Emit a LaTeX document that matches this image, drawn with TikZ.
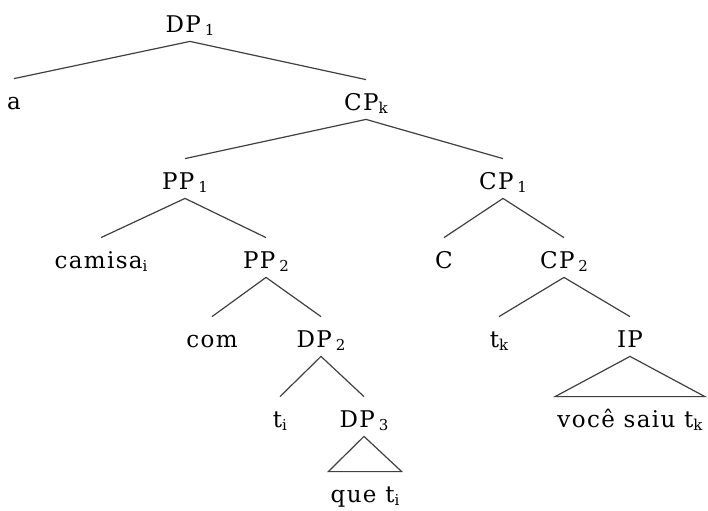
\documentclass[tikz,border=0pt]{standalone}
\usepackage{fontspec}
\setmainfont{DejaVu Serif}[LetterSpace=6]
\newcommand{\ix}[1]{\raisebox{-1.8pt}{\fontsize{7.5}{8}\selectfont #1}}

\begin{document}
\begin{tikzpicture}[x=0.5pt, y=-0.5pt]
    \tikzstyle{every node} = [anchor=base, inner xsep=1pt, inner ysep=4.5pt, text height=10.5pt, text depth=0pt, font=\fontsize{11.5}{13}\selectfont]
    \tikzstyle{branch} = [line width=0.6pt, draw=black!75]
    \useasboundingbox (0, 0) rectangle (708, 510);

    \node (dp1) at (190, 32) {DP\,\ix{1}};
    \node (a) at (14, 109) {a};
    \node (cpk) at (366, 110) {CP\ix{k}};
    \node (pp1) at (185, 189) {PP\,\ix{1}};
    \node (cp1) at (503, 189) {CP\,\ix{1}};
    \node (camisa) at (101, 268) {camisa\ix{i}};
    \node (pp2) at (266, 268) {PP\,\ix{2}};
    \node (c) at (444, 268) {C};
    \node (cp2) at (564, 268) {CP\,\ix{2}};
    \node (com) at (212, 347) {com};
    \node (dp2) at (321, 347) {DP\,\ix{2}};
    \node (tk) at (499, 347) {t\ix{k}};
    \node (ip) at (630, 347) {IP};
    \node (ti) at (280, 427) {t\ix{i}};
    \node (dp3) at (364, 427) {DP\,\ix{3}};
    \node (voce) at (630, 427) {você saiu t\ix{k}};
    \node (que) at (365, 502) {que t\ix{i}};

    \draw[branch] (dp1.south) -- (a.north);
    \draw[branch] (dp1.south) -- (cpk.north);
    \draw[branch] (cpk.south) -- (pp1.north);
    \draw[branch] (cpk.south) -- (cp1.north);
    \draw[branch] (pp1.south) -- (camisa.north);
    \draw[branch] (pp1.south) -- (pp2.north);
    \draw[branch] (pp2.south) -- (com.north);
    \draw[branch] (pp2.south) -- (dp2.north);
    \draw[branch] (dp2.south) -- (ti.north);
    \draw[branch] (dp2.south) -- (dp3.north);
    \draw[branch] (cp1.south) -- (c.north);
    \draw[branch] (cp1.south) -- (cp2.north);
    \draw[branch] (cp2.south) -- (tk.north);
    \draw[branch] (cp2.south) -- (ip.north);
    \draw[branch] (dp3.south) -- (que.north west) -- (que.north east) -- cycle;
    \draw[branch] (ip.south) -- (voce.north west) -- (voce.north east) -- cycle;
\end{tikzpicture}
\end{document}
